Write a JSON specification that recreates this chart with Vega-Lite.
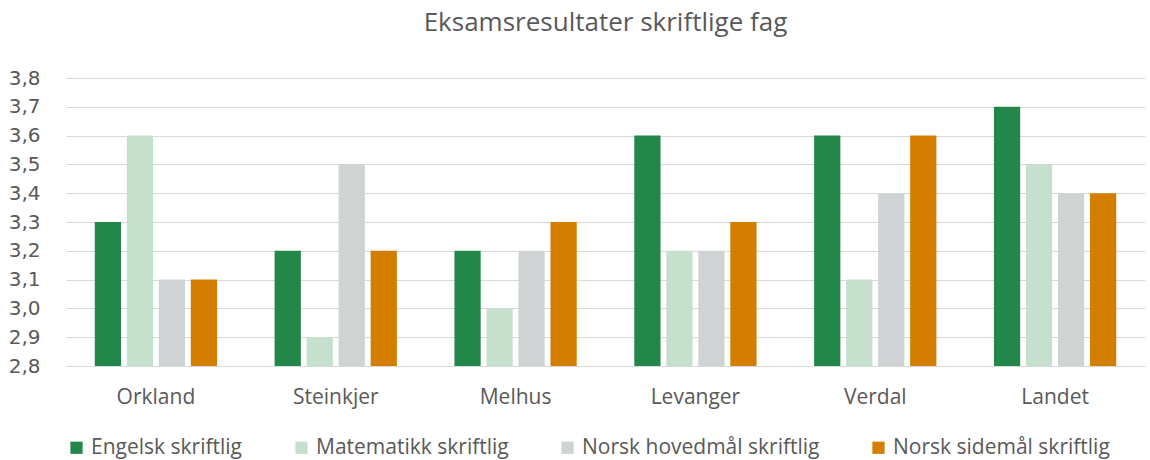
{
  "$schema": "https://vega.github.io/schema/vega-lite/v6.json",
  "width": 1150,
  "height": 460,
  "autosize": {"type": "fit", "contains": "padding"},
  "padding": {"left": 8, "right": 5, "top": 10, "bottom": 2},
  "background": "white",
  "title": {
    "text": "Eksamsresultater skriftlige fag",
    "fontSize": 26,
    "fontWeight": "normal",
    "color": "#595959",
    "font": "Open Sans",
    "offset": 32
  },
  "config": {
    "font": "Open Sans",
    "view": {"stroke": null},
    "axis": {"labelColor": "#595959", "labelFontSize": 21, "titleColor": "#595959"}
  },
  "data": {
    "values": [
      {"sted": "Orkland", "fag": "Engelsk skriftlig", "verdi": 3.3},
      {"sted": "Orkland", "fag": "Matematikk skriftlig", "verdi": 3.6},
      {"sted": "Orkland", "fag": "Norsk hovedmål skriftlig", "verdi": 3.1},
      {"sted": "Orkland", "fag": "Norsk sidemål skriftlig", "verdi": 3.1},
      {"sted": "Steinkjer", "fag": "Engelsk skriftlig", "verdi": 3.2},
      {"sted": "Steinkjer", "fag": "Matematikk skriftlig", "verdi": 2.9},
      {"sted": "Steinkjer", "fag": "Norsk hovedmål skriftlig", "verdi": 3.5},
      {"sted": "Steinkjer", "fag": "Norsk sidemål skriftlig", "verdi": 3.2},
      {"sted": "Melhus", "fag": "Engelsk skriftlig", "verdi": 3.2},
      {"sted": "Melhus", "fag": "Matematikk skriftlig", "verdi": 3.0},
      {"sted": "Melhus", "fag": "Norsk hovedmål skriftlig", "verdi": 3.2},
      {"sted": "Melhus", "fag": "Norsk sidemål skriftlig", "verdi": 3.3},
      {"sted": "Levanger", "fag": "Engelsk skriftlig", "verdi": 3.6},
      {"sted": "Levanger", "fag": "Matematikk skriftlig", "verdi": 3.2},
      {"sted": "Levanger", "fag": "Norsk hovedmål skriftlig", "verdi": 3.2},
      {"sted": "Levanger", "fag": "Norsk sidemål skriftlig", "verdi": 3.3},
      {"sted": "Verdal", "fag": "Engelsk skriftlig", "verdi": 3.6},
      {"sted": "Verdal", "fag": "Matematikk skriftlig", "verdi": 3.1},
      {"sted": "Verdal", "fag": "Norsk hovedmål skriftlig", "verdi": 3.4},
      {"sted": "Verdal", "fag": "Norsk sidemål skriftlig", "verdi": 3.6},
      {"sted": "Landet", "fag": "Engelsk skriftlig", "verdi": 3.7},
      {"sted": "Landet", "fag": "Matematikk skriftlig", "verdi": 3.5},
      {"sted": "Landet", "fag": "Norsk hovedmål skriftlig", "verdi": 3.4},
      {"sted": "Landet", "fag": "Norsk sidemål skriftlig", "verdi": 3.4}
    ]
  },
  "mark": {"type": "bar"},
  "encoding": {
    "x": {
      "field": "sted",
      "type": "nominal",
      "sort": null,
      "title": null,
      "scale": {"paddingInner": 0.32, "paddingOuter": 0.16},
      "axis": {"labelAngle": 0, "ticks": false, "domain": true, "domainColor": "#D9D9D9", "labelPadding": 20}
    },
    "xOffset": {
      "field": "fag",
      "type": "nominal",
      "sort": null,
      "scale": {"paddingInner": 0.18}
    },
    "y": {
      "field": "verdi",
      "type": "quantitative",
      "title": null,
      "scale": {"domain": [2.8, 3.8], "zero": false, "nice": false},
      "axis": {
        "values": [2.8, 2.9, 3.0, 3.1, 3.2, 3.3, 3.4, 3.5, 3.6, 3.7, 3.8],
        "labelExpr": "replace(format(datum.value, '.1f'), '.', ',')",
        "labelFont": "DejaVu Sans",
        "labelFontSize": 20,
        "domain": false,
        "ticks": false,
        "gridColor": "#D9D9D9",
        "gridWidth": 1,
        "labelPadding": 26
      }
    },
    "y2": {"datum": 2.8},
    "color": {
      "field": "fag",
      "type": "nominal",
      "sort": null,
      "scale": {
        "domain": ["Engelsk skriftlig", "Matematikk skriftlig", "Norsk hovedmål skriftlig", "Norsk sidemål skriftlig"],
        "range": ["#23874A", "#C6E0CE", "#CFD3D4", "#D47E00"]
      },
      "legend": {
        "title": null,
        "orient": "bottom",
        "direction": "horizontal",
        "symbolType": "square",
        "symbolSize": 150,
        "symbolStrokeWidth": 0,
        "labelFontSize": 21,
        "labelColor": "#595959",
        "labelLimit": 400,
        "columnPadding": 48,
        "offset": 30
      }
    }
  }
}
